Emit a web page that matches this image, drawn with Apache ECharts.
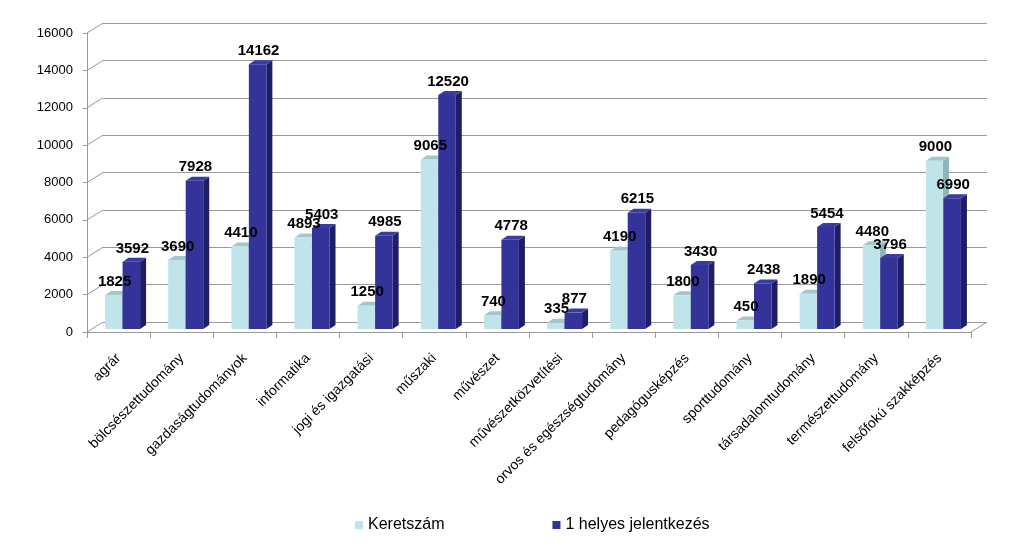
<!DOCTYPE html>
<html>
<head>
<meta charset="utf-8">
<script src="https://cdn.jsdelivr.net/npm/echarts@6/dist/echarts.min.js"></script>
<style>
html, body { margin: 0; padding: 0; background: #fff; }
#chart { width: 1024px; height: 547px; }
</style>
</head>
<body>
<div id="chart"></div>
<script>
const categories = ['agrár', 'bölcsészettudomány', 'gazdaságtudományok', 'informatika', 'jogi és igazgatási', 'műszaki', 'művészet', 'művészetközvetítési', 'orvos és egészségtudomány', 'pedagógusképzés', 'sporttudomány', 'társadalomtudomány', 'természettudomány', 'felsőfokú szakképzés']
const keretszam = [1825, 3690, 4410, 4893, 1250, 9065, 740, 335, 4190, 1800, 450, 1890, 4480, 9000]
const jelentkezes = [3592, 7928, 14162, 5403, 4985, 12520, 4778, 877, 6215, 3430, 2438, 5454, 3796, 6990]
const yTicks = [0, 2000, 4000, 6000, 8000, 10000, 12000, 14000, 16000]

// 3D look: depth shift of back wall and of the bar sides
const DX = 16
const DY = -10
const SIDE_X = 6
const SIDE_Y = -4
const FONT = 'Liberation Sans, Arial, sans-serif'

const chart = echarts.init(document.getElementById('chart'))

function barRenderer(offset, width, colors) {
    return function (params, api) {
        const i = api.value(0)
        const v = api.value(1)
        const base = api.coord([i, 0])
        const top = api.coord([i, v])
        const x0 = base[0] + offset
        const x1 = x0 + width
        const yb = base[1] - 3
        const yt = top[1] - 3
        return {
            type: 'group',
            children: [
                {
                    type: 'polygon',
                    shape: { points: [[x1, yt], [x1 + SIDE_X, yt + SIDE_Y], [x1 + SIDE_X, yb + SIDE_Y], [x1, yb]] },
                    style: { fill: colors.side },
                },
                {
                    type: 'polygon',
                    shape: { points: [[x0, yt], [x1, yt], [x1 + SIDE_X, yt + SIDE_Y], [x0 + SIDE_X, yt + SIDE_Y]] },
                    style: { fill: colors.top },
                },
                {
                    type: 'rect',
                    shape: { x: x0, y: yt, width: width, height: yb - yt },
                    style: { fill: colors.front },
                },
                {
                    type: 'text',
                    z2: 10,
                    style: {
                        x: x0 + width / 2 + 1,
                        y: yt - 6,
                        text: String(v),
                        fill: '#000',
                        font: 'bold 15px ' + FONT,
                        align: 'center',
                        verticalAlign: 'bottom',
                    },
                },
            ],
        }
    }
}

const option = {
    animation: false,
    backgroundColor: '#fff',
    legend: {
        left: 350,
        top: 512,
        itemWidth: 8,
        itemHeight: 8,
        itemGap: 108,
        icon: 'rect',
        textStyle: { fontSize: 16, color: '#000', fontFamily: FONT },
        data: ['Keretszám', '1 helyes jelentkezés'],
    },
    grid: [
        { left: 87, right: 53, top: 33, bottom: 215 },
        { left: 87 + DX, right: 53 - DX, top: 33 + DY, bottom: 215 - DY },
    ],
    xAxis: [
        {
            type: 'category',
            gridIndex: 0,
            data: categories,
            axisLine: { show: true, lineStyle: { color: '#999' } },
            axisTick: { show: true, length: 6, lineStyle: { color: '#999' } },
            axisLabel: { rotate: 45, fontSize: 14, color: '#000', fontFamily: FONT, margin: 24, interval: 0 },
        },
        {
            type: 'category',
            gridIndex: 1,
            data: categories,
            show: false,
        },
    ],
    yAxis: [
        {
            type: 'value',
            gridIndex: 0,
            min: 0,
            max: 16000,
            interval: 2000,
            splitLine: { show: false },
            axisLine: { show: true, lineStyle: { color: '#999' } },
            axisTick: { show: true, length: 4, lineStyle: { color: '#999' } },
            axisLabel: { fontSize: 13, color: '#000', fontFamily: FONT, margin: 14, formatter: function (v) { return String(v) } },
        },
        {
            type: 'value',
            gridIndex: 1,
            min: 0,
            max: 16000,
            interval: 2000,
            axisLine: { show: false },
            axisTick: { show: false },
            axisLabel: { show: false },
            splitLine: { show: true, lineStyle: { color: '#999', width: 1 } },
        },
    ],
    series: [
        {
            name: 'frame',
            type: 'custom',
            xAxisIndex: 0,
            yAxisIndex: 0,
            silent: true,
            data: yTicks.map(function (t) { return [0, t] }),
            renderItem: function (params, api) {
                const cs = params.coordSys
                const y = api.coord([0, api.value(1)])[1]
                const lines = [{
                    type: 'line',
                    shape: { x1: cs.x, y1: y, x2: cs.x + DX, y2: y + DY },
                    style: { stroke: '#999', lineWidth: 1 },
                }]
                if (api.value(1) === 0) {
                    lines.push({
                        type: 'line',
                        shape: { x1: cs.x + cs.width, y1: y, x2: cs.x + cs.width + DX, y2: y + DY },
                        style: { stroke: '#999', lineWidth: 1 },
                    })
                }
                return { type: 'group', children: lines }
            },
        },
        {
            name: 'Keretszám',
            type: 'custom',
            xAxisIndex: 0,
            yAxisIndex: 0,
            itemStyle: { color: '#bfe4ea' },
            data: keretszam.map(function (v, i) { return [i, v] }),
            renderItem: barRenderer(-13.5, 17, { front: '#bfe4ea', side: '#8db5ba', top: '#a3c6ca' }),
        },
        {
            name: '1 helyes jelentkezés',
            type: 'custom',
            xAxisIndex: 0,
            yAxisIndex: 0,
            itemStyle: { color: '#33339a' },
            data: jelentkezes.map(function (v, i) { return [i, v] }),
            renderItem: barRenderer(4, 17.5, { front: '#33339a', side: '#1e1e66', top: '#3b3ba6' }),
        },
    ],
}
chart.setOption(option)
</script>
</body>
</html>
